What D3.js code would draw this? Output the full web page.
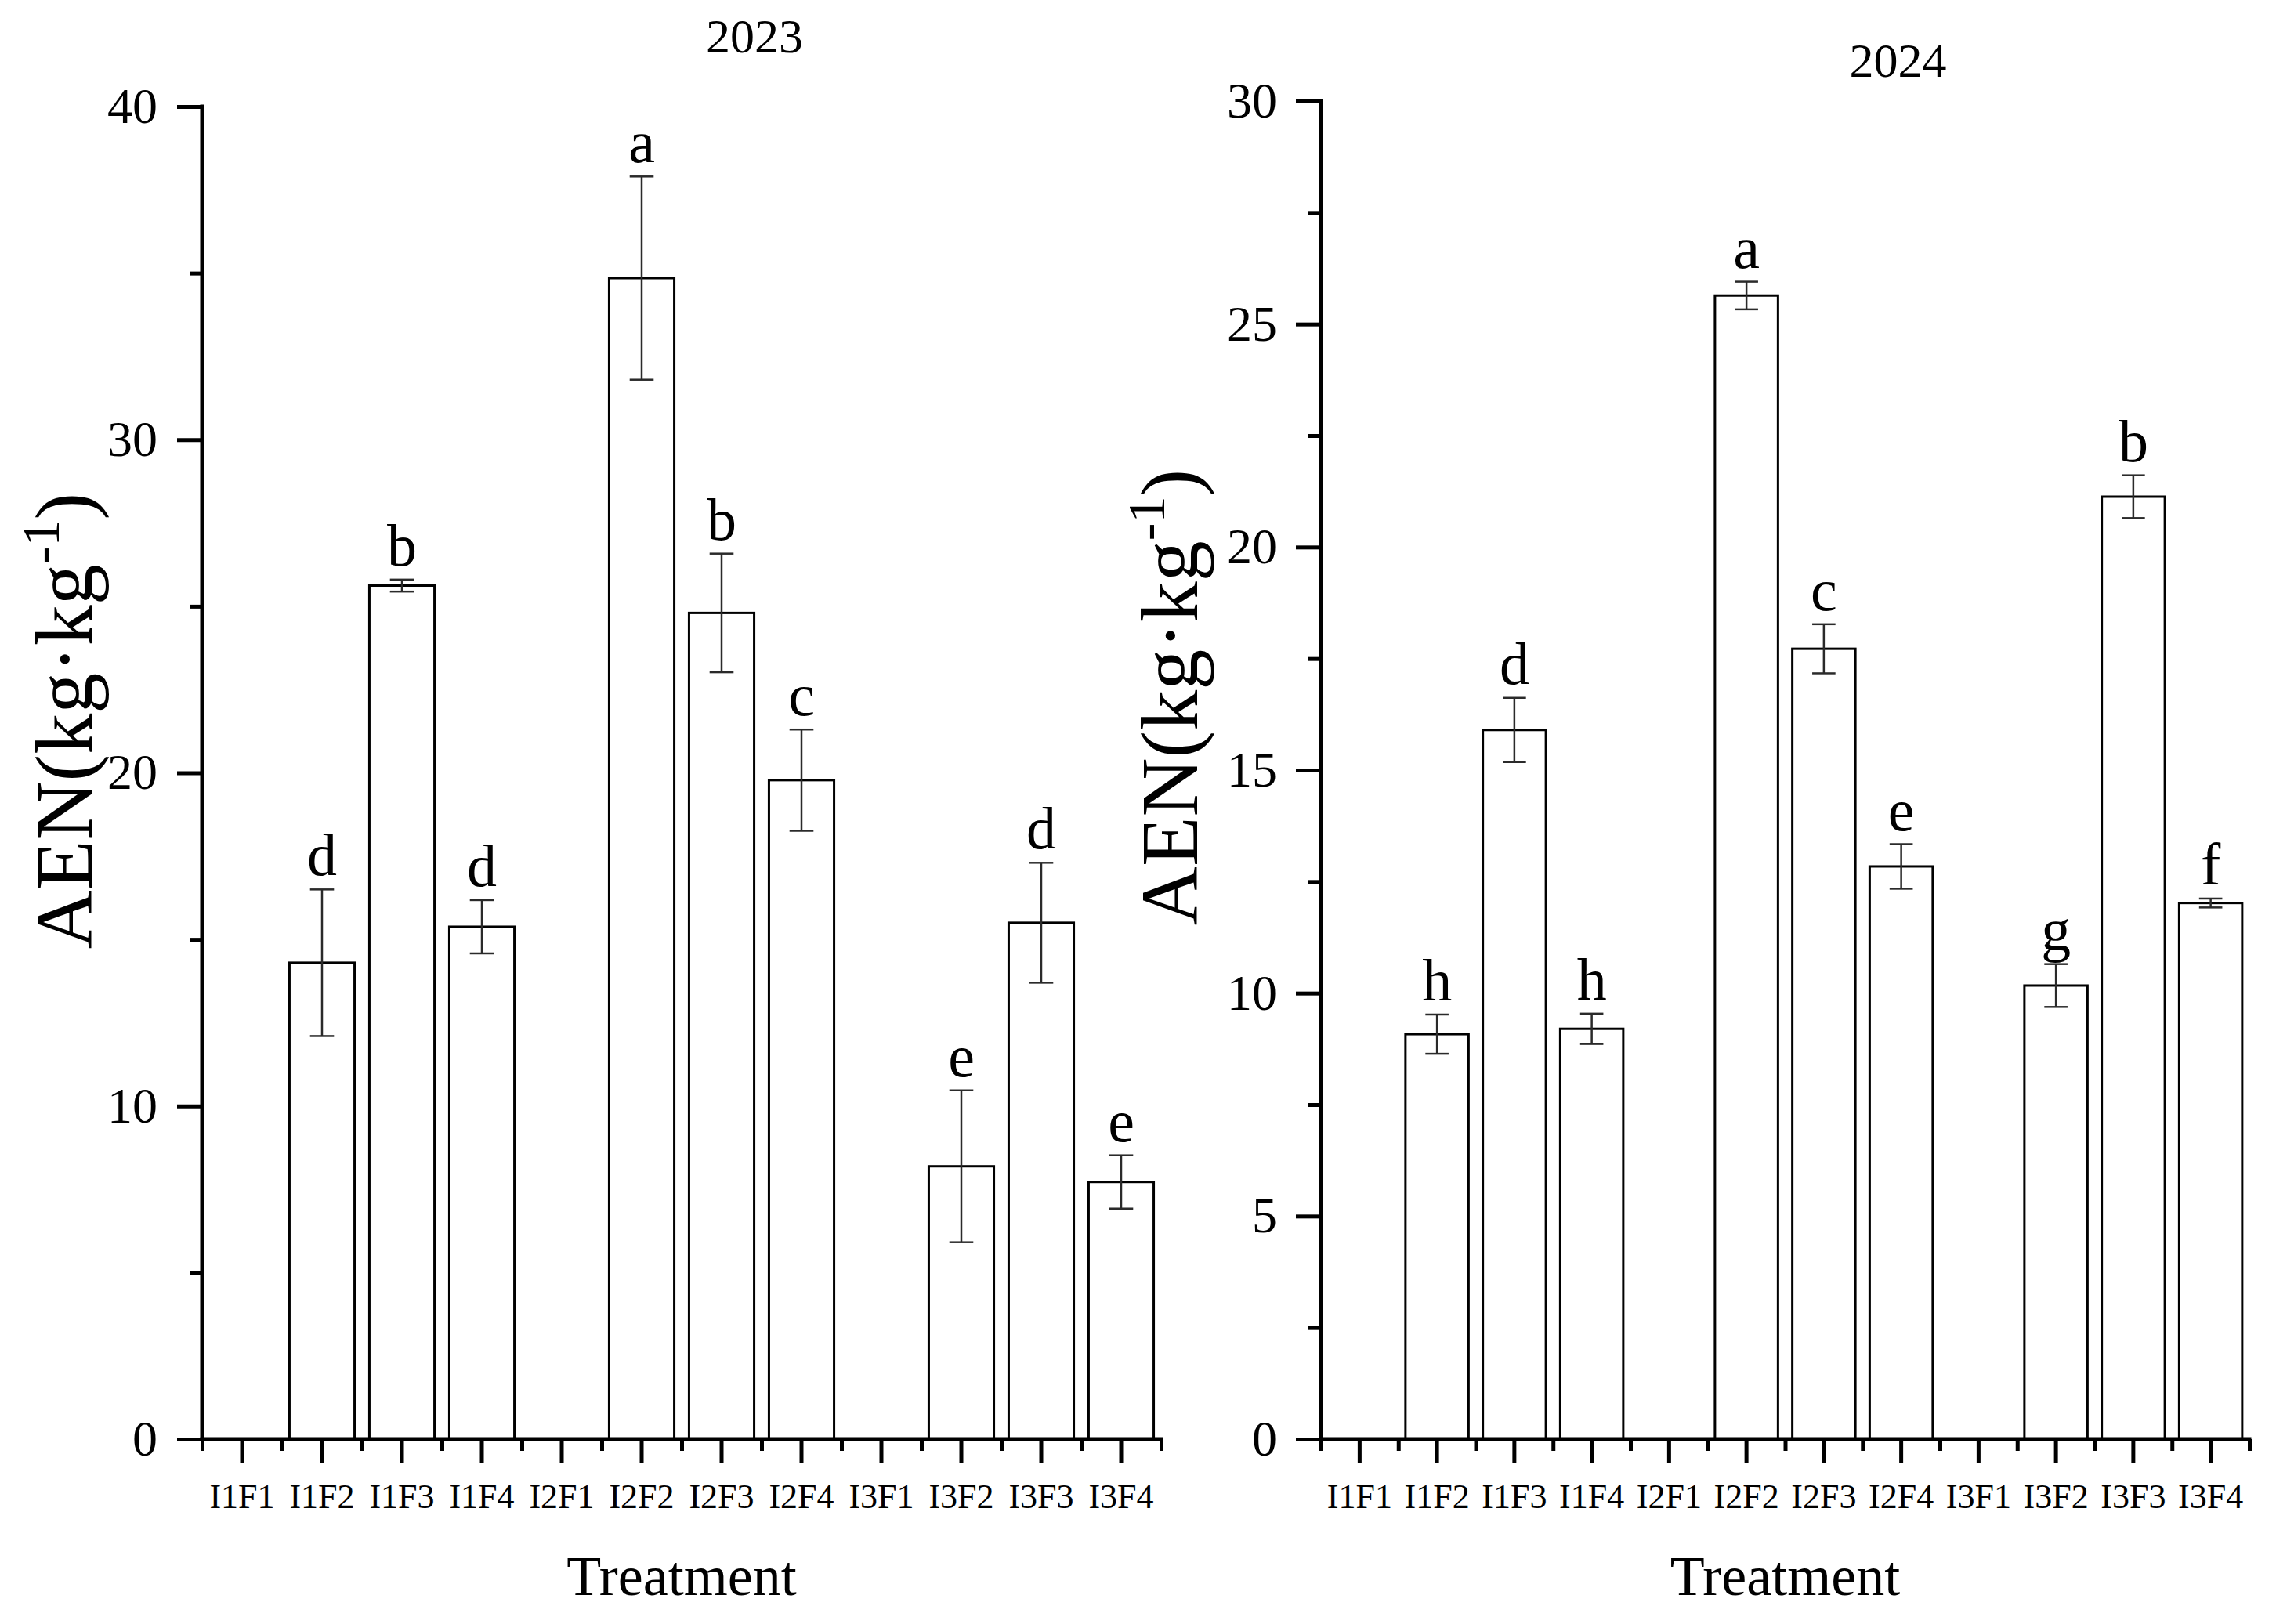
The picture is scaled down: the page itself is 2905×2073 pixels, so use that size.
<!DOCTYPE html>
<html>
<head>
<meta charset="utf-8">
<script src="https://cdn.jsdelivr.net/npm/d3@7"></script>
<style>
  html, body { margin: 0; padding: 0; background: #fff; }
  svg { display: block; font-family: "Liberation Serif", "Times New Roman", serif; }
</style>
</head>
<body>
<svg id="chart" width="2905" height="2073"></svg>
<script>
// treatments on the x axis (same for both years)
const treatments = ["I1F1", "I1F2", "I1F3", "I1F4", "I2F1", "I2F2", "I2F3", "I2F4", "I3F1", "I3F2", "I3F3", "I3F4"];

// 2023: mean AEN, standard error, significance letter
const aen2023 = [null, 14.3, 25.62, 15.38, null, 34.85, 24.8, 19.78, null, 8.19, 15.5, 7.72];
const err2023 = [0, 2.2, 0.18, 0.8, 0, 3.05, 1.78, 1.52, 0, 2.28, 1.8, 0.8];
const letters2023 = ["", "d", "b", "d", "", "a", "b", "c", "", "e", "d", "e"];

// 2024
const aen2024 = [null, 9.08, 15.9, 9.2, null, 25.64, 17.72, 12.84, null, 10.17, 21.13, 12.02];
const err2024 = [0, 0.44, 0.72, 0.34, 0, 0.31, 0.55, 0.5, 0, 0.48, 0.48, 0.1];
const letters2024 = ["", "h", "d", "h", "", "a", "c", "e", "", "g", "b", "f"];

// axis ticks
const yTicks2023 = [0, 10, 20, 30, 40];
const yMinor2023 = [5, 15, 25, 35];
const yTicks2024 = [0, 5, 10, 15, 20, 25, 30];
const yMinor2024 = [2.5, 7.5, 12.5, 17.5, 22.5, 27.5];

const serif = '"Liberation Serif", "Times New Roman", serif';

let svg = d3.select("#chart");

function drawPanel(opt) {
    let g = svg.append("g");

    let x = d3.scaleBand()
        .domain(treatments)
        .range([opt.left, opt.right])
        .padding(0);

    // linear helper for the band boundary ticks
    let xEdge = d3.scaleLinear()
        .domain([0, treatments.length])
        .range([opt.left, opt.right]);

    let y = d3.scaleLinear()
        .domain([0, opt.yMax])
        .range([opt.bottom, opt.top]);

    let rows = treatments.map((t, i) => ({ t: t, v: opt.values[i], e: opt.errors[i], l: opt.letters[i] }))
        .filter(d => d.v != null);

    let barW = x.bandwidth() * 0.815;
    let capW = x.bandwidth() * 0.3;

    // bars
    g.selectAll("rect.bar")
        .data(rows)
        .enter()
        .append("rect")
        .attr("class", "bar")
        .attr("x", d => x(d.t) + (x.bandwidth() - barW) / 2)
        .attr("y", d => y(d.v))
        .attr("width", barW)
        .attr("height", d => y(0) - y(d.v))
        .attr("fill", "#fff")
        .attr("stroke", "#000")
        .attr("stroke-width", 3);

    // error bars
    let eb = g.selectAll("g.err")
        .data(rows)
        .enter()
        .append("g")
        .attr("class", "err")
        .attr("stroke", "#2a2a2a")
        .attr("stroke-width", 2.5);
    eb.append("line")
        .attr("x1", d => x(d.t) + x.bandwidth() / 2)
        .attr("x2", d => x(d.t) + x.bandwidth() / 2)
        .attr("y1", d => y(d.v + d.e))
        .attr("y2", d => y(d.v - d.e));
    eb.append("line")
        .attr("x1", d => x(d.t) + x.bandwidth() / 2 - capW / 2)
        .attr("x2", d => x(d.t) + x.bandwidth() / 2 + capW / 2)
        .attr("y1", d => y(d.v + d.e))
        .attr("y2", d => y(d.v + d.e));
    eb.append("line")
        .attr("x1", d => x(d.t) + x.bandwidth() / 2 - capW / 2)
        .attr("x2", d => x(d.t) + x.bandwidth() / 2 + capW / 2)
        .attr("y1", d => y(d.v - d.e))
        .attr("y2", d => y(d.v - d.e));

    // significance letters
    g.selectAll("text.sig")
        .data(rows)
        .enter()
        .append("text")
        .attr("class", "sig")
        .attr("x", d => x(d.t) + x.bandwidth() / 2)
        .attr("y", d => y(d.v + d.e) - 18)
        .attr("text-anchor", "middle")
        .style("font-size", "76px")
        .style("fill", "#000")
        .text(d => d.l);

    // y axis: minor then major
    let yMinorAxis = g.append("g")
        .attr("transform", "translate(" + opt.left + ",0)")
        .call(d3.axisLeft(y).tickValues(opt.yMinor).tickSize(16).tickSizeOuter(0).tickFormat(""));
    yMinorAxis.select(".domain").remove();

    let yAxis = g.append("g")
        .attr("transform", "translate(" + opt.left + ",0)")
        .call(d3.axisLeft(y).tickValues(opt.yTicks).tickSize(32).tickSizeOuter(0).tickPadding(opt.yPad));
    yAxis.select(".domain").attr("d", "M0," + y(0) + "V" + y(opt.yMax));
    yAxis.attr("font-family", serif).attr("font-size", 64);
    yAxis.selectAll("text").attr("fill", "#000");

    // x axis: band edges (short) and category centres (long)
    let xMinorAxis = g.append("g")
        .attr("transform", "translate(0," + opt.bottom + ")")
        .call(d3.axisBottom(xEdge).tickValues(d3.range(treatments.length + 1)).tickSize(15).tickFormat(""));
    xMinorAxis.select(".domain").remove();

    let xAxis = g.append("g")
        .attr("transform", "translate(0," + opt.bottom + ")")
        .call(d3.axisBottom(x).tickSize(30).tickSizeOuter(0).tickPadding(27));
    xAxis.select(".domain").attr("d", "M" + opt.left + ",0H" + opt.right);
    xAxis.attr("font-family", serif).attr("font-size", 44);
    xAxis.selectAll("text").attr("fill", "#000");

    [yMinorAxis, yAxis, xMinorAxis, xAxis].forEach(a => {
        a.selectAll("line").attr("stroke", "#000").attr("stroke-width", 5);
        a.selectAll("path").attr("stroke", "#000").attr("stroke-width", 5).attr("stroke-linecap", "square");
    });

    // panel title (year)
    g.append("text")
        .attr("x", (opt.left + opt.right) / 2 + opt.titleShift)
        .attr("y", opt.titleY)
        .attr("text-anchor", "middle")
        .style("font-size", "62px")
        .text(opt.title);

    // x axis title
    g.append("text")
        .attr("x", (opt.left + opt.right) / 2)
        .attr("y", 2036)
        .attr("text-anchor", "middle")
        .style("font-size", "72px")
        .text("Treatment");

    // y axis title
    let yt = g.append("text")
        .attr("transform", "translate(" + opt.yTitleX + "," + opt.yTitleY + ") rotate(-90)")
        .attr("text-anchor", "middle")
        .style("font-size", "104px");
    yt.append("tspan").text("AEN(kg·kg");
    yt.append("tspan").attr("dy", -42).style("font-size", "68px").text("-1");
    yt.append("tspan").attr("dy", 42).text(")");
}

drawPanel({
    title: "2023", values: aen2023, errors: err2023, letters: letters2023,
    yMax: 40, yTicks: yTicks2023, yMinor: yMinor2023,
    left: 258, right: 1482, top: 136, bottom: 1837, yPad: 25,
    titleShift: 93, titleY: 67, yTitleX: 117, yTitleY: 920
});

drawPanel({
    title: "2024", values: aen2024, errors: err2024, letters: letters2024,
    yMax: 30, yTicks: yTicks2024, yMinor: yMinor2024,
    left: 1686, right: 2871, top: 129, bottom: 1837, yPad: 24,
    titleShift: 144, titleY: 98, yTitleX: 1528, yTitleY: 890
});
</script>
</body>
</html>
